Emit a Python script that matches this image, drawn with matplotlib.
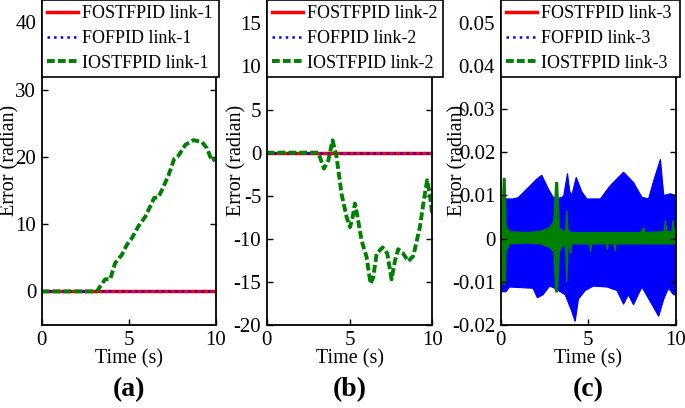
import numpy as np
import matplotlib
matplotlib.use('Agg')
import matplotlib.pyplot as plt
from matplotlib.lines import Line2D

plt.rcParams['font.family'] = ['Liberation Serif', 'DejaVu Serif']

# --- данные ---
t_flat = [0, 10]
zero_flat = [0, 0]

# (a) IOSTFPID link-1
t_a = [0, 3.16, 3.64, 3.93, 4.21, 4.6, 4.88, 5.17, 5.55, 5.94, 6.22, 6.45, 6.7,
       6.99, 7.28, 7.6, 7.85, 8.24, 8.71, 9.2, 9.48, 9.77, 10]
e_a = [0, 0, 1.8, 1.8, 4.2, 5.45, 6.9, 7.9, 9.7, 11.1, 12.6, 13.9, 14.0,
       15.6, 17.3, 19.7, 20.2, 21.8, 22.5, 22.2, 21.3, 19.4, 19.8]

# (b) IOSTFPID link-2
t_b = [0, 3.12, 3.46, 3.72, 3.98, 4.22, 4.52, 4.83, 5.03, 5.19, 5.33, 5.47, 5.73,
       6.03, 6.27, 6.43, 6.64, 7.0, 7.28, 7.54, 7.74, 7.94, 8.2, 8.55, 8.85,
       9.25, 9.49, 9.69, 9.85, 10]
e_b = [0, 0, -1.86, -0.9, 1.43, -0.5, -4.8, -7.5, -8.65, -7.5, -5.9, -7.3, -10.2,
       -12.1, -15.2, -14.5, -11.7, -11.0, -11.7, -14.7, -12.6, -11.2, -11.6, -12.6, -12.0,
       -8.65, -5.5, -3.2, -4.8, -7.3]

# (c) FOFPID link-3: огибающие колебаний
t_c_fo_up = [0, 0.7, 1.0, 1.5, 2.06, 2.35, 2.73, 3.0, 3.4, 3.6, 3.82, 3.95, 4.07, 4.32,
             4.65, 4.93, 5.7, 6.27, 7.03, 7.6, 8.08, 8.46, 8.75, 9.14, 9.33, 9.72, 10]
e_c_fo_up = [0.0092, 0.0092, 0.0095, 0.0115, 0.0138, 0.0147, 0.0115, 0.0096, 0.0094, 0.0098,
             0.0151, 0.0110, 0.0100, 0.0142, 0.0108, 0.0092, 0.0092, 0.0123, 0.0154, 0.0130,
             0.0096, 0.0092, 0.0134, 0.0184, 0.0100, 0.0104, 0.0100]
t_c_fo_lo = [0, 0.3, 0.5, 1.85, 2.1, 2.42, 2.8, 3.1, 3.69, 4.07, 4.26, 4.45, 4.84, 5.3,
             6.08, 6.65, 7.03, 7.3, 7.6, 8.08, 8.66, 9.04, 9.33, 9.6, 9.9, 10]
e_c_fo_lo = [-0.0123, -0.0123, -0.0112, -0.0115, -0.0137, -0.013, -0.011, -0.0115, -0.013,
             -0.0169, -0.0192, -0.014, -0.012, -0.011, -0.0112, -0.012, -0.0152, -0.013,
             -0.0153, -0.0112, -0.0153, -0.0180, -0.014, -0.0115, -0.013, -0.013]

# (c) IOSTFPID link-3: огибающие
t_c_io_up = [0, 0.1, 0.15, 0.25, 0.3, 0.5, 1.5, 2.3, 2.8, 3.05, 3.15, 3.25, 3.35, 3.6,
             3.72, 3.78, 3.85, 4.0, 6.0, 8.0, 8.2, 8.25, 9.35, 9.43, 9.5, 9.8, 9.85, 9.92, 10]
e_c_io_up = [0.007, 0.007, 0.0139, 0.0139, 0.003, 0.0016, 0.0014, 0.0017, 0.0025, 0.004,
             0.013, 0.013, 0.0025, 0.0014, 0.002, 0.0065, 0.002, 0.0014, 0.0014, 0.0014,
             0.0025, 0.0014, 0.0016, 0.0042, 0.0016, 0.0016, 0.0042, 0.0018, 0.0025]
t_c_io_lo = [0, 0.1, 0.15, 0.25, 0.3, 0.5, 1.5, 2.3, 2.8, 3.05, 3.15, 3.25, 3.35, 3.6,
             3.72, 3.78, 3.85, 3.95, 4.0, 4.05, 5.1, 5.15, 5.2, 6.05, 6.1, 6.15, 6.5, 6.55,
             6.6, 8.0, 10]
e_c_io_lo = [-0.008, -0.01, -0.0105, -0.0105, -0.003, -0.0012, -0.001, -0.0012, -0.002,
             -0.003, -0.0123, -0.0123, -0.003, -0.0012, -0.002, -0.0100, -0.002, -0.0012,
             -0.0035, -0.0012, -0.0012, -0.003, -0.0012, -0.0012, -0.0025, -0.0012, -0.0012,
             -0.0028, -0.0012, -0.0012, -0.0012]

W, H = 685, 408
red_st = dict(color='red', lw=2.5, ls='-')
blue_st = dict(color='blue', lw=1.8, ls=':')
green_st = dict(color='green', lw=2.8, ls=(0, (2, 0.8)))

fig = plt.figure(figsize=(W / 100, H / 100), dpi=100)

def make_axes(x0, x1, ylim, px_per_unit, y0_px):
    # оси задаются в пикселях исходной картинки
    bottom_px = 325
    top_px = y0_px - ylim[1] * px_per_unit
    return fig.add_axes([x0 / W, (H - bottom_px) / H, (x1 - x0) / W, (bottom_px - top_px) / H])

panels = [
    dict(x0=41.7, x1=216.0, ylim=(-5, 45), ppu=6.73, y0=291.7, yticks=[0, 10, 20, 30, 40],
         ytl=['0', '10', '20', '30', '40'], lab='(a)', link='1', ylx=10, box_r=219),
    dict(x0=266.7, x1=432.3, ylim=(-20, 20), ppu=8.6, y0=152.3, yticks=[-20, -15, -10, -5, 0, 5, 10, 15],
         ytl=['-20', '-15', '-10', '-5', '0', '5', '10', '15'], lab='(b)', link='2', ylx=237, box_r=443),
    dict(x0=500.7, x1=675.5, ylim=(-0.02, 0.06), ppu=4340, y0=240, yticks=[-0.02, -0.01, 0, 0.01, 0.02, 0.03, 0.04, 0.05],
         ytl=['-0.02', '-0.01', '0', '0.01', '0.02', '0.03', '0.04', '0.05'], lab='(c)', link='3', ylx=458, box_r=679.5),
]

for i, p in enumerate(panels):
    ax = make_axes(p['x0'], p['x1'], p['ylim'], p['ppu'], p['y0'])
    ax.set_xlim(0, 10)
    ax.set_ylim(*p['ylim'])
    ax.set_xticks([0, 5, 10])
    ax.set_xticklabels(['0', '5', '10'])
    ax.set_yticks(p['yticks'])
    ax.set_yticklabels(p['ytl'])
    ax.tick_params(direction='in', length=4, width=1, labelsize=15, right=True, top=False, pad=4)
    for s in ax.spines.values():
        s.set_linewidth(1.3)
    ax.set_xlabel('Time (s)', fontsize=14.5, labelpad=0)

    if i == 0:
        ax.plot(t_flat, zero_flat, **red_st)
        ax.plot(t_flat, zero_flat, **blue_st)
        ax.plot(t_a, e_a, **green_st)
    elif i == 1:
        ax.plot(t_flat, zero_flat, **red_st)
        ax.plot(t_flat, zero_flat, **blue_st)
        ax.plot(t_b, e_b, **green_st)
    else:
        ax.plot(t_flat, zero_flat, zorder=0.5, **red_st)
        ax.fill(np.r_[t_c_fo_up, t_c_fo_lo[::-1]], np.r_[e_c_fo_up, e_c_fo_lo[::-1]],
                color='blue', lw=0.8, zorder=1)
        ax.fill(np.r_[t_c_io_up, t_c_io_lo[::-1]], np.r_[e_c_io_up, e_c_io_lo[::-1]],
                color='green', lw=1.0, zorder=1.5)

    handles = [Line2D([], [], **red_st), Line2D([], [], **blue_st), Line2D([], [], **green_st)]
    labels = ['FOSTFPID link-' + p['link'], 'FOFPID link-' + p['link'], 'IOSTFPID link-' + p['link']]
    leg = ax.legend(handles, labels, loc='upper left',
                    bbox_to_anchor=(p['x0'] / W, 1.0, (p['box_r'] - p['x0']) / W, 0),
                    bbox_transform=fig.transFigure, mode='expand', borderaxespad=0,
                    fontsize=13, handlelength=1.7, handletextpad=0.25, labelspacing=0.42,
                    borderpad=0.3, fancybox=False, framealpha=1, edgecolor='black')
    leg.get_frame().set_linewidth(1.2)

    fig.text(p['ylx'] / W, 1 - 160 / H, 'Error (radian)', rotation=90, fontsize=14.5,
             ha='center', va='center')
    fig.text((p['x0'] + p['x1']) / 2 / W, 1 - 390 / H, p['lab'], fontsize=20,
             fontweight='bold', ha='center', va='center')

fig.savefig('out.png', dpi=100)
